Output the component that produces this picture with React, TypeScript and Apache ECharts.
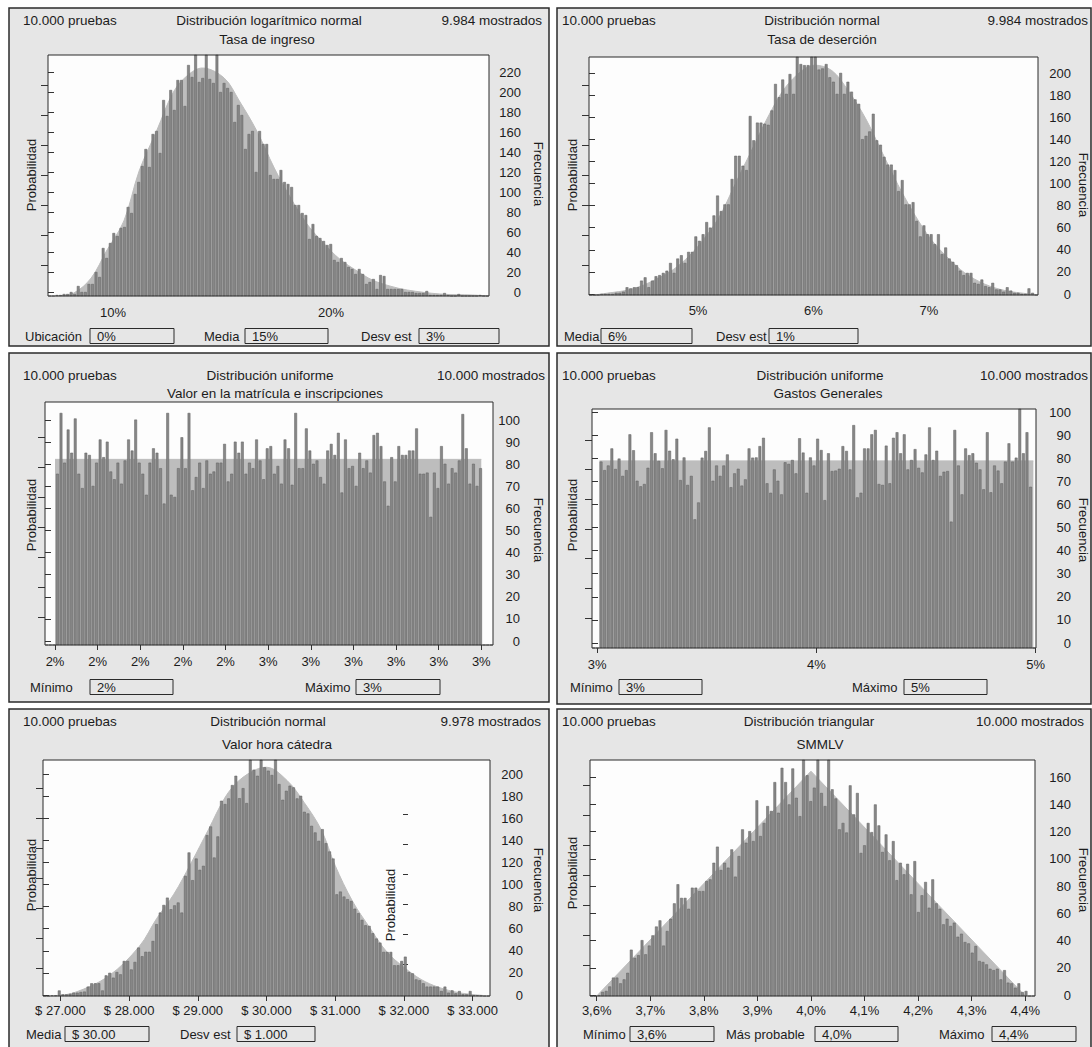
import React, { useEffect, useRef } from "react";
import * as echarts from "echarts";

// ---------------- DATA ----------------
// Panel 1: Tasa de ingreso (lognormal)
const p1Freq = [0, 0, 1, 1, 2, 2,
  4, 2, 10, 4, 4, 12, 12, 24, 19, 48,
  38, 53, 63, 60, 68, 69, 89, 83, 102, 114,
  130, 147, 129, 162, 165, 143, 196, 180, 206, 186,
  216, 216, 190, 231, 219, 245, 214, 218, 245, 217,
  213, 245, 204, 213, 208, 204, 174, 191, 181, 147,
  162, 165, 124, 165, 152, 152, 121, 117, 117, 126,
  114, 112, 109, 91, 91, 83, 81, 57, 72, 60,
  58, 55, 51, 52, 36, 34, 38, 34, 29, 27,
  22, 27, 22, 12, 14, 17, 7, 21, 20, 7,
  7, 7, 7, 7, 4, 4, 4, 3, 3, 3,
  5, 1, 1, 1, 1, 3, 1, 0, 0, 2,
  0, 0, 0, 0, 0, 1, 0, 0];
const p1Curve = [[7.4, 0], [8.2, 3], [9.0, 18], [9.7, 45], [10.5, 75], [11.2, 125], [12.0, 165], [12.8, 205], [13.5, 222], [14.1, 228], [15.1, 218], [15.8, 195], [16.6, 165], [17.4, 128], [18.1, 100], [18.9, 72], [19.7, 52], [20.4, 37], [21.2, 25], [21.9, 16], [22.7, 10], [23.5, 6], [25.0, 2], [26.5, 1], [27.2, 0]];
const p1TickValues = [10, 20];
const p1TickLabels = ["10%", "20%"];
const p1FreqTicks = [0, 20, 40, 60, 80, 100, 120, 140, 160, 180, 200, 220];
const p1Header = ["10.000 pruebas", "Distribución logarítmico normal", "9.984 mostrados"];
const p1Subtitle = "Tasa de ingreso";
const p1Params = [["Ubicación", "0%"], ["Media", "15%"], ["Desv est", "3%"]];

// Panel 2: Tasa de deserción (normal)
const p2Freq = [0, 0, 0, 1, 1, 1, 1, 2, 2, 3,
  7, 6, 7, 7, 13, 16, 7, 13, 17, 18,
  20, 22, 29, 20, 33, 36, 29, 39, 39, 53,
  49, 55, 66, 61, 72, 90, 76, 82, 82, 105,
  126, 126, 117, 113, 162, 140, 156, 156, 155, 154,
  167, 191, 179, 195, 182, 200, 182, 218, 209, 208,
  208, 218, 218, 204, 205, 209, 197, 193, 182, 201,
  182, 193, 184, 177, 173, 141, 144, 148, 164, 140,
  136, 125, 118, 118, 113, 94, 104, 82, 82, 84,
  67, 53, 63, 55, 55, 46, 55, 37, 43, 33,
  30, 27, 22, 18, 20, 20, 11, 10, 14, 8,
  7, 11, 5, 5, 3, 7, 4, 2, 2, 1,
  1, 6, 2, 0];
const p2Curve = [[4.1, 0], [4.17, 1], [4.45, 6], [4.74, 20], [4.89, 32], [5.03, 48], [5.18, 70], [5.32, 100], [5.46, 130], [5.61, 162], [5.75, 187], [5.9, 203], [6.01, 208], [6.16, 203], [6.3, 185], [6.45, 160], [6.59, 130], [6.73, 100], [6.88, 72], [7.02, 50], [7.17, 33], [7.31, 20], [7.48, 10], [7.66, 4], [7.86, 1], [7.93, 0]];
const p2TickValues = [5, 6, 7];
const p2TickLabels = ["5%", "6%", "7%"];
const p2FreqTicks = [0, 20, 40, 60, 80, 100, 120, 140, 160, 180, 200];
const p2Header = ["10.000 pruebas", "Distribución normal", "9.984 mostrados"];
const p2Subtitle = "Tasa de deserción";
const p2Params = [["Media", "6%"], ["Desv est", "1%"]];

// Panel 3: Valor en la matrícula e inscripciones (uniform)
const p3Freq = [0, 0, 0,
  77.5, 105, 82.5, 97.5, 87, 102.5, 77.5, 71, 87, 86,
  72, 82.5, 93, 85, 92, 78.5, 75, 82.5, 73, 83.5,
  93, 88, 102, 82.5, 77.5, 68, 82.5, 89, 87, 80,
  64, 105, 68, 67, 80, 94, 80, 105, 70, 76,
  82.5, 71, 83.5, 77.5, 78.5, 82.5, 82.5, 91, 74, 77.5,
  92, 87, 92, 77.5, 82.5, 80, 93, 83.5, 75, 89,
  90, 77.5, 81, 73, 93, 89, 72.5, 105, 80, 80,
  98, 88, 82, 83.5, 76, 73, 88, 91, 86, 96,
  69, 93, 80, 81, 72, 87, 80, 83.5, 78, 95,
  96, 90, 74, 63, 85, 74, 90, 86, 86, 88,
  88, 98, 77.5, 77.5, 78, 58, 78, 71, 90, 82,
  73, 80, 78, 83.5, 104.5, 89, 73, 82, 72, 80,
  0, 0, 0];
const p3Curve = [[2.0, 84], [3.0, 84]];
const p3TickValues = [2.0, 2.1, 2.2, 2.3, 2.4, 2.5, 2.6, 2.7, 2.8, 2.9, 3.0];
const p3TickLabels = ["2%", "2%", "2%", "2%", "2%", "3%", "3%", "3%", "3%", "3%", "3%"];
const p3FreqTicks = [0, 10, 20, 30, 40, 50, 60, 70, 80, 90, 100];
const p3Header = ["10.000 pruebas", "Distribución uniforme", "10.000 mostrados"];
const p3Subtitle = "Valor en la matrícula e inscripciones";
const p3Params = [["Mínimo", "2%"], ["Máximo", "3%"]];

// Panel 4: Gastos Generales (uniform)
const p4Freq = [0, 0,
  80.7, 77, 79, 86.4, 77.5, 82, 74.5, 77, 92.5, 85.6,
  72.4, 70, 71, 78, 93.4, 84.3, 81, 77.8, 94.4, 85.4,
  81.7, 90.6, 72.7, 82.5, 70.6, 74.5, 55.7, 63, 82.4, 85.3,
  95.5, 72.4, 79, 74.5, 79, 83.8, 69.6, 75.6, 77.6, 70.3,
  73, 86.4, 82.4, 82.5, 87.4, 91, 71.3, 67.2, 77.3, 72.4,
  66.5, 80.4, 79.7, 81.4, 75.6, 90.8, 84.6, 67.2, 82.5, 79,
  90.6, 85.7, 64, 84.3, 76.6, 76.8, 77.6, 87.4, 85.3, 77.3,
  96.5, 65.2, 67.2, 86.4, 86.4, 92.5, 94.4, 71, 70.6, 87.6,
  71.3, 91, 93.4, 84.3, 92.5, 77.3, 81.4, 86.1, 78, 76,
  83.8, 95.5, 81.4, 85.4, 74.5, 76.3, 76.6, 54.7, 94.4, 79,
  66.5, 86.4, 83.5, 84.3, 80.2, 77.3, 68.7, 93.4, 67.4, 79,
  76.8, 71.3, 80.7, 88.6, 80.7, 82.4, 104, 84.3, 93.4, 69.8,
  0];
const p4Curve = [[3.01, 81], [4.99, 81]];
const p4TickValues = [3, 4, 5];
const p4TickLabels = ["3%", "4%", "5%"];
const p4FreqTicks = [0, 10, 20, 30, 40, 50, 60, 70, 80, 90, 100];
const p4Header = ["10.000 pruebas", "Distribución uniforme", "10.000 mostrados"];
const p4Subtitle = "Gastos Generales";
const p4Params = [["Mínimo", "3%"], ["Máximo", "5%"]];

// Panel 5: Valor hora cátedra (normal)
const p5Freq = [0, 0,
  0.6, 0.6, 5, 1.5, 1.5, 2, 3, 3, 3.6, 4,
  8.5, 11.5, 11.5, 11.5, 5, 18.7, 21, 16.6, 21.7, 19.6,
  31.7, 31.7, 24, 30.8, 43.8, 36, 40, 40, 49.8, 65,
  75.5, 82.4, 89, 78.5, 82, 84.6, 75.5, 108.7, 129.9, 104.8,
  124.4, 114.2, 117.8, 145.6, 153.4, 125.3, 144.4, 176.7, 173.7, 178.8,
  190.9, 199.3, 179, 188.1, 174.6, 218, 204.8, 199.3, 218, 207,
  203.9, 200, 218, 191.8, 177.6, 185.7, 190.3, 188.8, 178.8, 181.2,
  166.7, 165.2, 154, 148, 140.4, 151, 138.3, 130.8, 124.4, 92,
  94.5, 90, 87.6, 86, 79, 74.9, 68.9, 64, 63.4, 56.8,
  52, 48.3, 39.9, 39.9, 39.9, 27.8, 27.8, 31.7, 35.6, 21.7,
  20.5, 15, 14.2, 11.5, 8.5, 8.5, 8.5, 8.5, 4.5, 8.5,
  3, 5.1, 2.4, 4.5, 1.5, 1.5, 4.5, 0.6, 0.6, 0.3,
  0, 0];
const p5Curve = [[26900, 0], [27200, 3], [27700, 18], [28150, 45], [28400, 70], [28650, 92], [28900, 120], [29150, 150], [29400, 180], [29600, 195], [29850, 205], [30000, 207], [30300, 195], [30550, 175], [30800, 150], [31000, 118], [31250, 86], [31500, 62], [31750, 40], [32000, 26], [32250, 15], [32500, 8], [32800, 3], [33150, 0.5]];
const p5TickValues = [27000, 28000, 29000, 30000, 31000, 32000, 33000];
const p5TickLabels = ["$ 27.000", "$ 28.000", "$ 29.000", "$ 30.000", "$ 31.000", "$ 32.000", "$ 33.000"];
const p5FreqTicks = [0, 20, 40, 60, 80, 100, 120, 140, 160, 180, 200];
const p5Header = ["10.000 pruebas", "Distribución normal", "9.978 mostrados"];
const p5Subtitle = "Valor hora cátedra";
const p5Params = [["Media", "$ 30.00"], ["Desv est", "$ 1.000"]];

// Panel 6: SMMLV (triangular)
const p6Freq = [0, 0,
  0.5, 3, 3.7, 7, 13.5, 13.5, 9.3, 12.2, 17, 34,
  28, 30, 41, 30.6, 37, 44.5, 51, 55.5, 37, 47.7,
  56.7, 68, 82, 72, 72, 64, 79.5, 79.5, 77, 77,
  84.4, 85.6, 97.8, 109.6, 92.5, 97.8, 94.2, 107.6, 87.6, 102.7,
  122.3, 112.5, 121, 113.7, 143.6, 117.4, 127, 139.4, 135.8, 157,
  134.5, 167.5, 157, 140.6, 167, 145.5, 132, 176, 162, 143,
  152.9, 176, 149, 139.4, 176, 151.7, 145, 122.3, 127, 120,
  154.6, 133.3, 149, 105, 110.6, 127, 120.3, 140.6, 125.2, 105.7,
  118.6, 99.6, 113.7, 85, 97.8, 89.3, 97, 74.6, 99, 61.6,
  73.9, 83.7, 64.8, 85.6, 68, 64, 52.6, 56.7, 51.4, 53.8,
  43.5, 45.7, 39.6, 38.6, 31.8, 36.7, 25.7, 25, 23.2, 20,
  19, 20, 12.2, 19, 9.8, 9.3, 6.1, 9.3, 2.9, 3.7,
  0, 0];
const p6Curve = [[3.6, 0], [4.0, 165], [4.4, 0]];
const p6TickValues = [3.6, 3.7, 3.8, 3.9, 4.0, 4.1, 4.2, 4.3, 4.4];
const p6TickLabels = ["3,6%", "3,7%", "3,8%", "3,9%", "4,0%", "4,1%", "4,2%", "4,3%", "4,4%"];
const p6FreqTicks = [0, 20, 40, 60, 80, 100, 120, 140, 160];
const p6Header = ["10.000 pruebas", "Distribución triangular", "10.000 mostrados"];
const p6Subtitle = "SMMLV";
const p6Params = [["Mínimo", "3,6%"], ["Más probable", "4,0%"], ["Máximo", "4,4%"]];

const PANELS = [
  { freq: p1Freq, curve: p1Curve, tv: p1TickValues, tl: p1TickLabels, ft: p1FreqTicks, header: p1Header, subtitle: p1Subtitle, params: p1Params },
  { freq: p2Freq, curve: p2Curve, tv: p2TickValues, tl: p2TickLabels, ft: p2FreqTicks, header: p2Header, subtitle: p2Subtitle, params: p2Params },
  { freq: p3Freq, curve: p3Curve, tv: p3TickValues, tl: p3TickLabels, ft: p3FreqTicks, header: p3Header, subtitle: p3Subtitle, params: p3Params },
  { freq: p4Freq, curve: p4Curve, tv: p4TickValues, tl: p4TickLabels, ft: p4FreqTicks, header: p4Header, subtitle: p4Subtitle, params: p4Params },
  { freq: p5Freq, curve: p5Curve, tv: p5TickValues, tl: p5TickLabels, ft: p5FreqTicks, header: p5Header, subtitle: p5Subtitle, params: p5Params },
  { freq: p6Freq, curve: p6Curve, tv: p6TickValues, tl: p6TickLabels, ft: p6FreqTicks, header: p6Header, subtitle: p6Subtitle, params: p6Params },
];

// ---------------- LAYOUT ----------------
const LAYOUT = [
  { box: [9, 8, 540, 338], frame: [48, 55, 489, 296], zeroY: 292, topY: 72, fMargin: 32, prob: [85, 265],
    xr: [7.02, 27.25], xTick: false, xMargin: 10, smooth: 0.35,
    hy: 20, hx: [23, 269, 542], sub: [267, 39], probL: [31, 175], freqL: [538, 174],
    fy: 336, items: [[25, 90, 84], [204, 245, 83], [361, 419, 80]] },
  { box: [557, 8, 534, 338], frame: [589, 57, 1038, 295], zeroY: 294, topY: 73, fMargin: 33, prob: [85, 265],
    xr: [4.056, 7.944], xTick: false, xMargin: 9, smooth: 0.35,
    hy: 20, hx: [562, 822, 1088], sub: [822, 39], probL: [572, 175], freqL: [1083, 185],
    fy: 336, items: [[564, 601, 91], [716, 769, 89]] },
  { box: [9, 353, 540, 349], frame: [45, 402, 493, 645], zeroY: 641, topY: 420, fMargin: 27, prob: [437, 617],
    xr: [1.9765, 3.0275], xTick: true, xMargin: 10, smooth: false,
    hy: 375, hx: [23, 270, 545], sub: [275, 393], probL: [31, 515], freqL: [538, 530],
    fy: 687, items: [[30, 90, 83], [305, 356, 84]] },
  { box: [557, 353, 534, 351], frame: [592, 409, 1036, 648], zeroY: 643, topY: 412, fMargin: 35, prob: [440, 618],
    xr: [2.976, 5.002], xTick: true, xMargin: 10, smooth: false,
    hy: 375, hx: [562, 820, 1088], sub: [828, 393], probL: [572, 515], freqL: [1083, 530],
    fy: 687, items: [[570, 619, 83], [852, 904, 83]] },
  { box: [9, 709, 540, 345], frame: [43, 760, 490, 996], zeroY: 995, topY: 774, fMargin: 33, prob: [788, 968],
    xr: [26747, 33253], xTick: true, xMargin: 8, smooth: 0.35,
    hy: 721, hx: [23, 268, 541], sub: [277, 744], probL: [31, 875], freqL: [538, 880],
    fy: 1034, items: [[26, 65, 84], [180, 237, 78]] },
  { box: [557, 709, 534, 345], frame: [590, 760, 1035, 996], zeroY: 995, topY: 777, fMargin: 36, prob: [785, 965],
    xr: [3.5875, 4.4182], xTick: true, xMargin: 8, smooth: false,
    hy: 721, hx: [562, 809, 1084], sub: [820, 744], probL: [572, 873], freqL: [1083, 880],
    fy: 1034, items: [[583, 630, 84], [726, 815, 83], [939, 992, 84]] },
];

const FONT = "'Liberation Sans', Arial, Helvetica, sans-serif";
const INK = "#1c1c1c";
const LINE = "#333333";

function txt(text: string, x: number, y: number, align: string, rotation = 0, size = 13) {
  return {
    type: "text", x, y, rotation, z: 100, silent: true,
    style: { text, fontSize: size, fontFamily: FONT, fill: INK, align, textAlign: align, verticalAlign: "middle", textVerticalAlign: "middle" },
  };
}

function buildOption() {
  const grid: any[] = [];
  const xAxis: any[] = [];
  const yAxis: any[] = [];
  const series: any[] = [];
  const graphic: any[] = [];

  PANELS.forEach((p, i) => {
    const L: any = LAYOUT[i];
    const [l, t, r, b] = L.frame;
    const fMax = p.ft[p.ft.length - 1];
    const fStep = p.ft[1] - p.ft[0];
    const px = (L.zeroY - L.topY) / fMax;
    const mainMax = (b - t) / px;

    const g0 = grid.length;
    grid.push({ left: l, top: t, width: r - l, height: b - t, show: true, backgroundColor: "#fdfdfd", borderWidth: 0 });
    grid.push({ left: l, top: L.topY, width: r - l, height: L.zeroY - L.topY });
    grid.push({ left: l, top: L.prob[0], width: r - l, height: L.prob[1] - L.prob[0] });

    const xCat = xAxis.length;
    xAxis.push({ type: "category", gridIndex: g0, position: "bottom", show: false, boundaryGap: true, data: p.freq.map((_: any, k: number) => k) });
    const xVal = xAxis.length;
    const tv = p.tv, tl = p.tl;
    xAxis.push({
      type: "value", gridIndex: g0, position: "bottom", min: L.xr[0], max: L.xr[1],
      axisLine: { show: false }, splitLine: { show: false },
      axisTick: { show: L.xTick, customValues: tv, length: 5, lineStyle: { color: LINE } },
      axisLabel: {
        customValues: tv, margin: L.xMargin, fontSize: 13, color: INK, fontFamily: FONT,
        formatter: (v: number) => {
          let best = 0;
          for (let k = 0; k < tv.length; k++) if (Math.abs(tv[k] - v) < Math.abs(tv[best] - v)) best = k;
          return tl[best];
        },
      },
    });
    xAxis.push({ type: "value", gridIndex: g0 + 1, show: false, min: 0, max: 1 });
    xAxis.push({ type: "value", gridIndex: g0 + 2, show: false, min: 0, max: 1 });

    const yMain = yAxis.length;
    yAxis.push({ type: "value", gridIndex: g0, position: "left", show: false, min: 0, max: mainMax });
    yAxis.push({
      type: "value", gridIndex: g0 + 1, position: "right", min: 0, max: fMax, interval: fStep,
      axisLine: { show: false }, splitLine: { show: false },
      axisTick: { show: true, length: 6, lineStyle: { color: LINE } },
      axisLabel: { align: "right", margin: L.fMargin, fontSize: 13, color: INK, fontFamily: FONT },
    });
    yAxis.push({
      type: "value", gridIndex: g0 + 2, position: "left", min: 0, max: 6, interval: 1,
      axisLine: { show: false }, splitLine: { show: false },
      axisTick: { show: true, length: 7, lineStyle: { color: LINE } },
      axisLabel: { show: false },
    });

    series.push({
      type: "line", xAxisIndex: xVal, yAxisIndex: yMain, data: p.curve, smooth: L.smooth,
      symbol: "none", showSymbol: false, silent: true, z: 1,
      lineStyle: { width: 1, color: "#bdbdbd" }, areaStyle: { color: "#bdbdbd", opacity: 1 },
    });
    series.push({
      type: "bar", xAxisIndex: xCat, yAxisIndex: yMain, data: p.freq, barCategoryGap: "22%", silent: true, z: 2,
      itemStyle: { color: "#878787", borderColor: "#5e5e5e", borderWidth: 0.5 },
    });

    graphic.push({ type: "rect", z: -10, silent: true, shape: { x: L.box[0], y: L.box[1], width: L.box[2], height: L.box[3] }, style: { fill: "#e6e6e6", stroke: "#2b2b2b", lineWidth: 1.5 } });
    graphic.push({ type: "rect", z: 90, silent: true, shape: { x: l, y: t, width: r - l, height: b - t }, style: { fill: "none", stroke: "#2b2b2b", lineWidth: 1 } });

    graphic.push(txt(p.header[0], L.hx[0], L.hy, "left", 0, 13.5));
    graphic.push(txt(p.header[1], L.hx[1], L.hy, "center", 0, 13.5));
    graphic.push(txt(p.header[2], L.hx[2], L.hy, "right", 0, 13.5));
    graphic.push(txt(p.subtitle, L.sub[0], L.sub[1], "center", 0, 13.5));
    graphic.push(txt("Probabilidad", L.probL[0], L.probL[1], "center", Math.PI / 2));
    graphic.push(txt("Frecuencia", L.freqL[0], L.freqL[1], "center", -Math.PI / 2));

    p.params.forEach((pr: string[], k: number) => {
      const [lx, bx, bw] = L.items[k];
      graphic.push(txt(pr[0], lx, L.fy, "left"));
      graphic.push({ type: "rect", z: 95, silent: true, shape: { x: bx, y: L.fy - 7.5, width: bw, height: 15 }, style: { fill: "#e6e6e6", stroke: "#2b2b2b", lineWidth: 1 } });
      graphic.push(txt(pr[1], bx + 7, L.fy, "left"));
    });
  });

  // stray probability scale inside panel 5
  const gx = grid.length;
  grid.push({ left: 408, top: 814, width: 1, height: 180 });
  xAxis.push({ type: "value", gridIndex: gx, show: false, min: 0, max: 1 });
  yAxis.push({
    type: "value", gridIndex: gx, position: "left", min: 0, max: 6, interval: 1,
    axisLine: { show: false }, splitLine: { show: false },
    axisTick: { show: true, length: 5, lineStyle: { color: LINE } }, axisLabel: { show: false },
  });
  graphic.push(txt("Probabilidad", 390, 905, "center", Math.PI / 2));

  return {
    animation: false,
    backgroundColor: "#ffffff",
    textStyle: { fontFamily: FONT },
    grid, xAxis, yAxis, series, graphic,
  };
}

export default function App() {
  const ref = useRef<HTMLDivElement>(null);
  useEffect(() => {
    if (!ref.current) return;
    const chart = echarts.init(ref.current, null, { renderer: "svg" });
    chart.setOption(buildOption() as any);
    return () => chart.dispose();
  }, []);
  return <div ref={ref} style={{ position: "absolute", left: 0, top: 0, width: 1092, height: 1047 }} />;
}
